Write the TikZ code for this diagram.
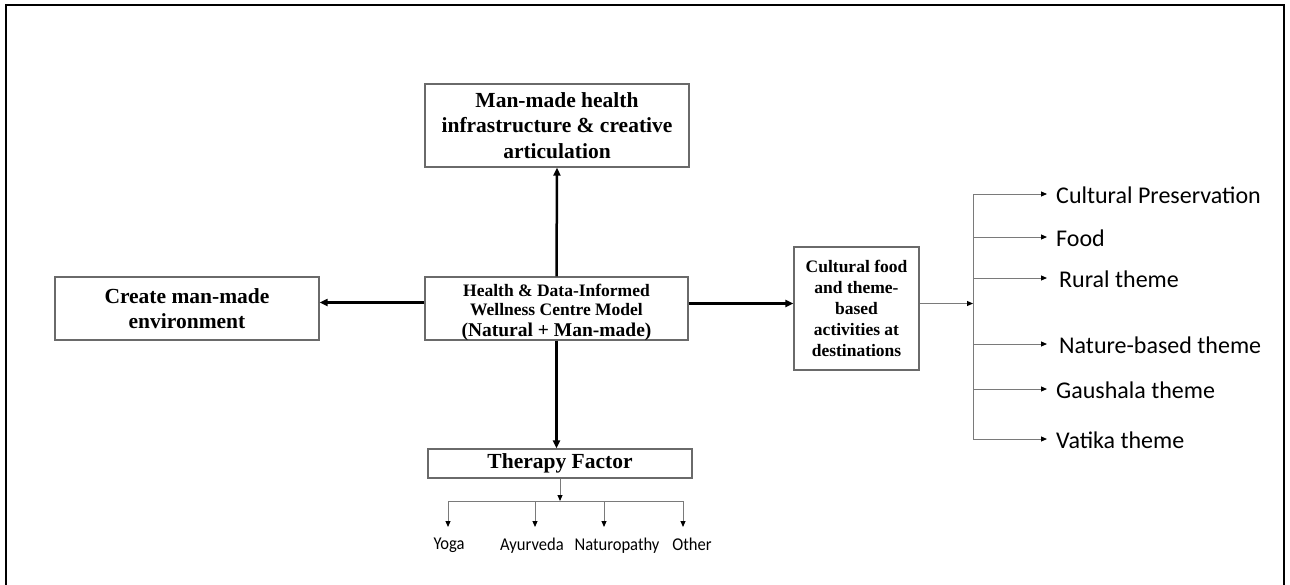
\documentclass[tikz,border=0pt]{standalone}
\usepackage{fontspec}
\setmainfont{Liberation Serif}
\newfontfamily\calib{Carlito}
\usetikzlibrary{arrows.meta}
\definecolor{boxgray}{HTML}{6A6A6A}
\definecolor{linegray}{HTML}{7A7A7A}
\begin{document}
\begin{tikzpicture}[x=1pt,y=-1pt,
  box/.style={draw=boxgray,line width=1.3pt,inner sep=0pt,align=center,
    font=\bfseries\fontsize{21.5}{25.5}\selectfont},
  thickarr/.style={line width=2.5pt,-{Triangle[length=8pt,width=7pt]}},
  thinline/.style={draw=linegray,line width=1pt},
  thinarr/.style={draw=linegray,line width=1pt,-{Triangle[length=6pt,width=5pt,color=black]}},
  sublbl/.style={inner sep=0pt,anchor=base,xscale=0.92,font=\calib\fontsize{18}{21}\selectfont},
  themelbl/.style={inner sep=0pt,anchor=base west,font=\calib\fontsize{24}{28}\selectfont}]
\useasboundingbox (0,0) rectangle (1290,584);
\clip (0,0) rectangle (1290,584);
\fill[white] (0,0) rectangle (1290,584);
\draw[line width=2.5pt] (6,5) rectangle (1284,600);

% boxes
\node[box,minimum width=264pt,minimum height=83pt] (top) at (557,125.5)
  {Man-made health\\infrastructure \& creative\\articulation};
\node[box,minimum width=263pt,minimum height=63pt] (center) at (556.5,308.5) {};
\node[inner sep=0pt,align=center,font=\bfseries\fontsize{17.5}{19.5}\selectfont] (centerlbl) at (556.5,312)
  {Health \& Data-Informed\\
   Wellness Centre Model\\[1pt]
   \fontsize{19.5}{22}\selectfont (Natural + Man-made)};
\node[box,minimum width=264pt,minimum height=63pt] (left) at (187,308.5)
  {Create man-made\\environment};
\node[box,minimum width=125pt,minimum height=123pt,
  font=\bfseries\fontsize{17.5}{20.8}\selectfont] (cult) at (856.5,308.5)
  {Cultural food\\and theme-\\based\\activities at\\destinations};
\node[box,minimum width=264pt,minimum height=29pt] (ther) at (560,463.5)
  {Therapy Factor};

% main arrows
\draw[thickarr] (center.north) -- (top.south);
\draw[thickarr] ([yshift=6pt]center.west) -- ([yshift=6pt]left.east);
\draw[thickarr] ([yshift=5pt]center.east) -- ([yshift=5pt]cult.west);
\draw[thickarr] (center.south) -- (center.south |- ther.north);

% therapy tree
\coordinate (tj) at (560,501);
\coordinate (tl) at (448,501);
\coordinate (tr) at (683,501);
\coordinate (ta) at (535,501);
\coordinate (tn) at (604,501);
\draw[thinarr] (ther.south) -- (tj);
\draw[thinline] (tl) -- (tr);
\coordinate (tye) at (448,527);
\coordinate (tae) at (535,527);
\coordinate (tne) at (604,527);
\coordinate (toe) at (683,527);
\draw[thinarr] (tl) -- (tye);
\draw[thinarr] (ta) -- (tae);
\draw[thinarr] (tn) -- (tne);
\draw[thinarr] (tr) -- (toe);
\node[sublbl] (yoga) at (449,549) {Yoga};
\node[sublbl] (ayur) at (532,550) {Ayurveda};
\node[sublbl] (natu) at (617,550) {Naturopathy};
\node[sublbl] (other) at (692,550) {Other};

% theme bus
\coordinate (bt) at (973,194);
\coordinate (bb) at (973,439);
\coordinate (bj) at (973,303.5);
\draw[thinline] (bt) -- (bb);
\draw[thinarr] ([yshift=5pt]cult.east) -- (bj);
\coordinate (b1) at (973,237);
\coordinate (b2) at (973,278);
\coordinate (b3) at (973,344);
\coordinate (b4) at (973,389);
\coordinate (e0) at (1047,194);
\coordinate (e1) at (1047,237);
\coordinate (e2) at (1047,278);
\coordinate (e3) at (1047,344);
\coordinate (e4) at (1047,389);
\coordinate (e5) at (1047,439);
\draw[thinarr] (bt) -- (e0);
\draw[thinarr] (b1) -- (e1);
\draw[thinarr] (b2) -- (e2);
\draw[thinarr] (b3) -- (e3);
\draw[thinarr] (b4) -- (e4);
\draw[thinarr] (bb) -- (e5);
\node[themelbl] (t0) at (1056,203) {Cultural Preservation};
\node[themelbl] (t1) at (1056,246) {Food};
\node[themelbl] (t2) at (1059,287) {Rural theme};
\node[themelbl] (t3) at (1059,353) {Nature-based theme};
\node[themelbl] (t4) at (1056,398) {Gaushala theme};
\node[themelbl] (t5) at (1056,448) {Vatika theme};
\end{tikzpicture}
\end{document}
